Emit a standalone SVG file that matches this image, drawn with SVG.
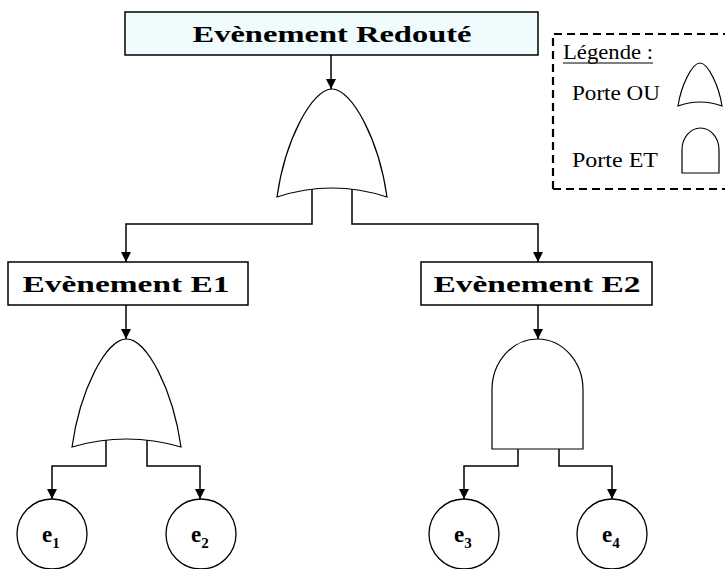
<svg xmlns="http://www.w3.org/2000/svg" width="725" height="569" viewBox="0 0 725 569">
  <defs>
    <marker id="arrow" viewBox="0 0 10 10" refX="10" refY="5" markerWidth="10" markerHeight="10" markerUnits="userSpaceOnUse" orient="auto">
      <path d="M0,0 L10,5 L0,10 Z" fill="#000"/>
    </marker>
    <style>
      .box { fill: #fff; stroke: #000; stroke-width: 1.5; }
      .top { fill: #effbfd; }
      .gate { fill: #fff; stroke: #000; stroke-width: 1.2; }
      .wire { fill: none; stroke: #000; stroke-width: 1.5; }
      .arr { marker-end: url(#arrow); }
      .leaf { fill: #fff; stroke: #000; stroke-width: 1.3; }
      .lbl { font-family: "Liberation Serif", "DejaVu Serif", serif; font-weight: bold; font-size: 23px; fill: #000; }
      .ev { font-family: "Liberation Serif", "DejaVu Serif", serif; font-weight: bold; font-size: 23px; fill: #000; }
      .sub { font-family: "Liberation Serif", "DejaVu Serif", serif; font-weight: bold; font-size: 15px; fill: #000; }
      .leg { font-family: "Liberation Serif", serif; font-size: 21px; fill: #000; }
    </style>
  </defs>

  <!-- connectors -->
  <g id="connectors">
    <path class="wire arr" d="M331,55 V89"/>
    <path class="wire arr" d="M312,189 V224 H126 V262"/>
    <path class="wire arr" d="M352,189 V224 H538 V262"/>
    <path class="wire arr" d="M126,305 V339"/>
    <path class="wire arr" d="M538,305 V339"/>
    <path class="wire arr" d="M106,439 V466 H52 V499"/>
    <path class="wire arr" d="M147,439 V466 H200 V499"/>
    <path class="wire arr" d="M518,449 V466 H464 V499"/>
    <path class="wire arr" d="M559,449 V466 H612 V499"/>
  </g>

  <!-- top event -->
  <g id="top-event">
    <rect class="box top" x="125" y="12" width="413" height="43"/>
    <text class="lbl" x="332" y="41.5" text-anchor="middle" textLength="279" lengthAdjust="spacingAndGlyphs">Evènement Redouté</text>
  </g>

  <!-- OR gate under top event -->
  <g id="gate-or-top">
    <path class="gate" d="M277,197 C285,140 312,89 332,89 C352,89 379,140 387,197 Q332,179 277,197 Z"/>
  </g>

  <!-- intermediate events -->
  <g id="event-e1">
    <rect class="box" x="8" y="262" width="240" height="43"/>
    <text class="lbl" x="126" y="291.5" text-anchor="middle" textLength="207" lengthAdjust="spacingAndGlyphs">Evènement E1</text>
  </g>
  <g id="event-e2">
    <rect class="box" x="421" y="262" width="231" height="43"/>
    <text class="lbl" x="537" y="291.5" text-anchor="middle" textLength="207" lengthAdjust="spacingAndGlyphs">Evènement E2</text>
  </g>

  <!-- OR gate under E1 -->
  <g id="gate-or-e1">
    <path class="gate" d="M72,447 C80,390 106,339 126.5,339 C147,339 173,390 181,447 Q126.5,431 72,447 Z"/>
  </g>

  <!-- AND gate under E2 -->
  <g id="gate-and-e2">
    <path class="gate" d="M492,449 V390 A45.5,51 0 0 1 583,390 V449 Z"/>
  </g>

  <!-- basic events -->
  <g id="leaf-e1">
    <circle class="leaf" cx="52" cy="534" r="35"/>
    <text x="42" y="542"><tspan class="ev">e</tspan><tspan class="sub" dy="6">1</tspan></text>
  </g>
  <g id="leaf-e2">
    <circle class="leaf" cx="201" cy="534" r="35"/>
    <text x="191" y="542"><tspan class="ev">e</tspan><tspan class="sub" dy="6">2</tspan></text>
  </g>
  <g id="leaf-e3">
    <circle class="leaf" cx="464" cy="534" r="35"/>
    <text x="454" y="542"><tspan class="ev">e</tspan><tspan class="sub" dy="6">3</tspan></text>
  </g>
  <g id="leaf-e4">
    <circle class="leaf" cx="612" cy="534" r="35"/>
    <text x="602" y="542"><tspan class="ev">e</tspan><tspan class="sub" dy="6">4</tspan></text>
  </g>

  <!-- legend -->
  <g id="legend">
    <path d="M553,189 V34 H725 M553,189 H725" fill="none" stroke="#000" stroke-width="2.2" stroke-dasharray="8,5"/>
    <text class="leg" x="563" y="59" textLength="90" lengthAdjust="spacingAndGlyphs">Légende :</text>
    <line x1="563" y1="63" x2="653" y2="63" stroke="#000" stroke-width="1"/>
    <text class="leg" x="572" y="100" textLength="88" lengthAdjust="spacingAndGlyphs">Porte OU</text>
    <text class="leg" x="572" y="167" textLength="86" lengthAdjust="spacingAndGlyphs">Porte ET</text>
    <path class="gate" d="M678,106 C681,86 692,63 700,63 C708,63 719,86 722,106 Q700,98 678,106 Z"/>
    <path class="gate" d="M682,173 V150 A18.5,22 0 0 1 719,150 V173 Z"/>
  </g>
</svg>
